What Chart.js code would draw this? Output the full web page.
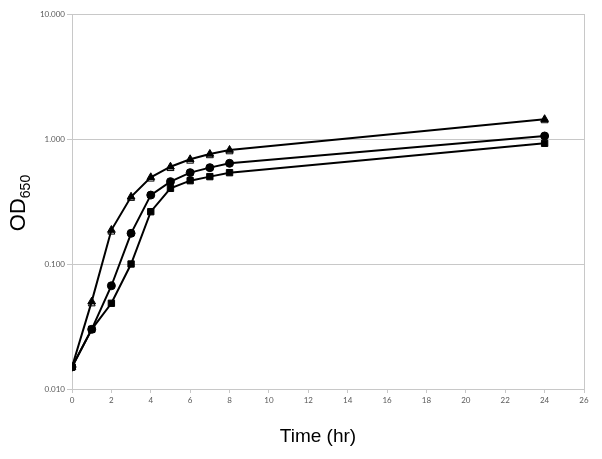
<!DOCTYPE html>
<html>
<head>
<meta charset="utf-8">
<script src="https://cdn.jsdelivr.net/npm/chart.js@4.4.1/dist/chart.umd.min.js"></script>
<style>
  html, body { margin: 0; padding: 0; background: #fff; }
  #wrap { width: 602px; height: 459px; }
</style>
</head>
<body>
<div id="wrap"><canvas id="growth"></canvas></div>
<script>
const hours = [0, 1, 2, 3, 4, 5, 6, 7, 8, 24];
const odTriFilled = [0.015, 0.050, 0.187, 0.345, 0.494, 0.600, 0.688, 0.759, 0.817, 1.44];
const odTriOpen = [0.015, 0.048, 0.180, 0.335, 0.478, 0.580, 0.665, 0.735, 0.790, 1.40];
const odCircle = [0.015, 0.030, 0.067, 0.176, 0.356, 0.456, 0.538, 0.590, 0.639, 1.057];
const odSquare = [0.015, 0.030, 0.0485, 0.100, 0.262, 0.403, 0.464, 0.500, 0.538, 0.924];
const yTicks = [0.01, 0.1, 1, 10];

const pts = vals => hours.map((h, i) => ({x: h, y: vals[i]}));

const axisTitles = {
  id: 'axisTitles',
  afterDraw(chart) {
    const c = chart.ctx, a = chart.chartArea;
    c.save();
    // right frame line
    c.strokeStyle = '#c8c8c8';
    c.lineWidth = 1;
    c.beginPath();
    c.moveTo(a.right + 0.5, a.top);
    c.lineTo(a.right + 0.5, a.bottom);
    c.stroke();
    c.fillStyle = '#000';
    c.textBaseline = 'middle';
    c.textAlign = 'center';
    c.font = '19px "Liberation Sans", Arial, sans-serif';
    c.fillText('Time (hr)', 318, 437);
    // y title with subscript
    c.translate(19, 203);
    c.rotate(-Math.PI / 2);
    c.font = '22px "Liberation Sans", Arial, sans-serif';
    const w1 = c.measureText('OD').width;
    c.font = '14px "Liberation Sans", Arial, sans-serif';
    const w2 = c.measureText('650').width;
    const x0 = -(w1 + w2) / 2;
    c.textAlign = 'left';
    c.font = '22px "Liberation Sans", Arial, sans-serif';
    c.fillText('OD', x0, 0);
    c.font = '14px "Liberation Sans", Arial, sans-serif';
    c.fillText('650', x0 + w1, 7);
    c.restore();
  }
};

const line = (data, style, fill, r, show) => ({
  data: pts(data),
  showLine: show,
  borderColor: '#000',
  borderWidth: 2,
  pointStyle: style,
  pointRadius: r,
  pointHoverRadius: r,
  pointBorderColor: '#000',
  pointBorderWidth: 1,
  pointBackgroundColor: fill,
  tension: 0
});

new Chart(document.getElementById('growth'), {
  type: 'line',
  data: {
    datasets: [
      line(odSquare, 'rect', '#000', 4.5, true),
      line(odCircle, 'circle', '#000', 4, true),
      line(odTriFilled, 'triangle', '#000', 4.5, true),
      line(odTriOpen, 'triangle', 'rgba(255,255,255,0)', 4, false)
    ]
  },
  options: {
    responsive: true,
    maintainAspectRatio: false,
    animation: false,
    layout: { padding: { left: 0, right: 18, top: 14, bottom: 0 } },
    plugins: {
      legend: { display: false },
      tooltip: { enabled: false }
    },
    scales: {
      x: {
        type: 'linear',
        min: 0,
        max: 26,
        afterFit: s => { s.height = 70; },
        grid: { drawOnChartArea: false, drawTicks: true, tickLength: 4, color: '#c8c8c8' },
        border: { color: '#c8c8c8' },
        ticks: {
          stepSize: 2,
          padding: 3,
          color: '#595959',
          font: { family: 'Lato, "Open Sans", sans-serif', size: 8 }
        }
      },
      y: {
        type: 'logarithmic',
        min: 0.01,
        max: 10,
        afterFit: s => { s.width = 72; },
        afterBuildTicks: s => { s.ticks = yTicks.map(v => ({value: v})); },
        grid: { color: '#c8c8c8', tickLength: 5 },
        border: { color: '#c8c8c8' },
        ticks: {
          padding: 2,
          color: '#595959',
          font: { family: 'Lato, "Open Sans", sans-serif', size: 8 },
          callback: v => Number(v).toFixed(3)
        }
      }
    }
  },
  plugins: [axisTitles]
});
</script>
</body>
</html>
